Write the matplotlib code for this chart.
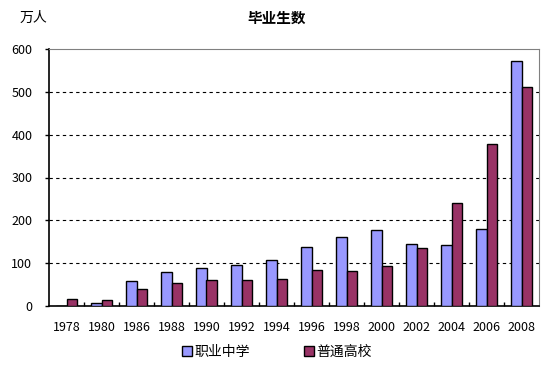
import numpy as np
import matplotlib.pyplot as plt

plt.rcParams['font.family'] = ['Noto Sans CJK SC', 'DejaVu Sans']

years = ['1978', '1980', '1986', '1988', '1990', '1992', '1994',
         '1996', '1998', '2000', '2002', '2004', '2006', '2008']
vocational = [0, 6, 58, 79, 88, 96, 107, 137, 160, 177, 144, 142, 179, 572]
college = [16, 14, 40, 54, 61, 61, 63, 83, 81, 93, 135, 240, 378, 511]

blue = '#9999FF'
red = '#993366'

fig = plt.figure(figsize=(5.54, 3.73), dpi=100)
ax = fig.add_axes([49 / 554, 67 / 373, 490 / 554, 257 / 373])

x = np.arange(len(years))
w = 0.29
ax.bar(x - w / 2, vocational, w, color=blue, edgecolor='black', linewidth=1.0,
       label='职业中学', zorder=3)
ax.bar(x + w / 2, college, w, color=red, edgecolor='black', linewidth=1.0,
       label='普通高校', zorder=3)

ax.set_xlim(-0.5, len(years) - 0.5)
ax.set_ylim(0, 600)
ax.set_yticks(range(0, 601, 100))
for yv in range(100, 600, 100):
    ax.axhline(yv, color='black', linestyle=(0, (3, 3)), linewidth=0.8, zorder=1)

ax.set_xticks(x)
ax.set_xticklabels(years, fontsize=9)
ax.tick_params(axis='x', length=0, pad=11)
ax.set_xticks(np.arange(0.5, len(years) - 1, 1), minor=True)
ax.tick_params(axis='x', which='minor', direction='in', length=3, width=1, color='black')
ax.tick_params(axis='y', direction='out', length=3, width=1, labelsize=9, pad=9)

ax.spines['top'].set_color('#808080')
ax.spines['right'].set_color('#808080')
ax.spines['left'].set_color('black')
ax.spines['bottom'].set_color('black')
ax.spines['left'].set_linewidth(1.2)
ax.spines['bottom'].set_linewidth(1.2)

fig.text(0.5, 1 - 18 / 373, '毕业生数', ha='center', va='center', fontsize=10.5,
         fontweight='bold')
fig.text(20 / 554, 1 - 18 / 373, '万人', ha='left', va='center', fontsize=10)

leg = fig.legend(loc='center', bbox_to_anchor=(0.5, 1 - 352 / 373), ncol=2,
                 frameon=False, fontsize=10, handlelength=0.7, handleheight=0.7,
                 handletextpad=0.2, columnspacing=3.9)

fig.savefig('out.png', dpi=100)
